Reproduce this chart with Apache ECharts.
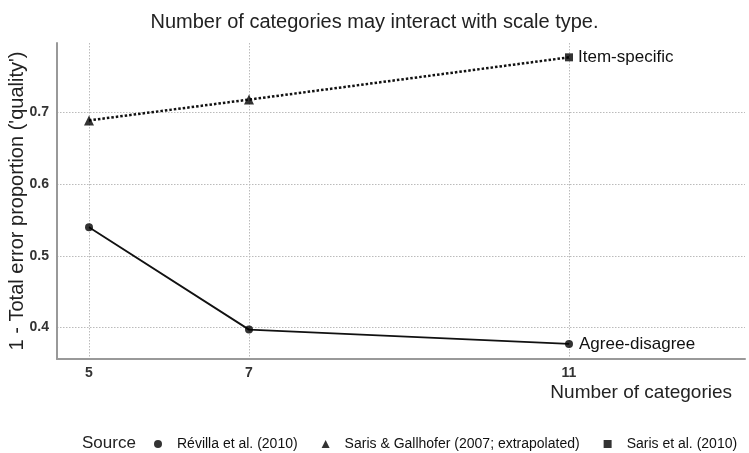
<!DOCTYPE html>
<html>
<head>
<meta charset="utf-8">
<script src="https://cdn.jsdelivr.net/npm/echarts@6/dist/echarts.min.js"></script>
<style>html,body{margin:0;padding:0;background:#fff}#c{width:749px;height:453px}</style>
</head>
<body>
<div id="c"></div>
<script>
// Data
const categories = [5, 7, 11];
const agreeDisagree = [0.540, 0.397, 0.377];
const itemSpecific = [0.689, 0.718, 0.777];
const revillaX = [5, 7, 11];
const revillaY = [0.540, 0.397, 0.377];
const sarisGallhoferX = [5, 7];
const sarisGallhoferY = [0.689, 0.718];
const sarisX = [11];
const sarisY = [0.777];
const yTicks = [0.4, 0.5, 0.6, 0.7];
const xTicks = [5, 7, 11];
const sourceNames = ['Révilla et al. (2010)', 'Saris & Gallhofer (2007; extrapolated)', 'Saris et al. (2010)'];
const lineNames = ['Agree-disagree', 'Item-specific'];

const pair = (xs, ys) => xs.map((x, i) => [x, ys[i]]);
const FONT = 'Liberation Sans, Arial, Helvetica, sans-serif';
const chart = echarts.init(document.getElementById('c'));
chart.setOption({
  animation: false,
  textStyle: { fontFamily: FONT },
  title: [
    { text: 'Number of categories may interact with scale type.', left: 'center', top: 7,
      textStyle: { fontSize: 20, fontWeight: 'normal', color: '#222', fontFamily: FONT } },
    { text: 'Source', left: 77, top: 430,
      textStyle: { fontSize: 17, fontWeight: 'normal', color: '#222', fontFamily: FONT } }
  ],
  legend: {
    left: 149, top: 432, itemWidth: 8, itemHeight: 8, itemGap: 24,
    data: [
      { name: sourceNames[0], icon: 'circle' },
      { name: sourceNames[1], icon: 'triangle' },
      { name: sourceNames[2], icon: 'rect' }
    ],
    textStyle: { fontSize: 14, color: '#111', padding: [0, 0, 0, 10], fontFamily: FONT }
  },
  grid: { left: 57, right: 4, top: 43, bottom: 94, containLabel: false, outerBoundsMode: 'none' },
  xAxis: {
    type: 'value', min: 4.6, max: 13.2,
    name: 'Number of categories', nameLocation: 'end', nameGap: -13, nameMoveOverlap: false,
    nameTextStyle: { fontSize: 19, color: '#222', align: 'right', verticalAlign: 'top', padding: [24, 0, 0, 0], fontFamily: FONT },
    axisLine: { show: true, lineStyle: { color: '#999', width: 2 } },
    axisTick: { show: false, customValues: xTicks },
    axisLabel: { customValues: xTicks, fontSize: 14, fontWeight: 'bold', color: '#333', margin: 7, fontFamily: FONT },
    splitLine: { show: true, lineStyle: { color: '#bbb', type: [1.5, 1.5], width: 1 } }
  },
  yAxis: {
    type: 'value', min: 0.356, max: 0.797,
    name: "1 - Total error proportion ('quality')", nameLocation: 'middle', nameGap: 30, nameMoveOverlap: false,
    nameTextStyle: { fontSize: 20, color: '#222', fontFamily: FONT },
    axisLine: { show: true, lineStyle: { color: '#999', width: 2 } },
    axisTick: { show: false, customValues: yTicks },
    axisLabel: { customValues: yTicks, formatter: v => v.toFixed(1), fontSize: 14, fontWeight: 'bold', color: '#333', margin: 8, fontFamily: FONT },
    splitLine: { show: true, lineStyle: { color: '#bbb', type: [1.5, 1.5], width: 1 } }
  },
  series: [
    { name: lineNames[0], type: 'line', data: pair(categories, agreeDisagree), symbol: 'none',
      lineStyle: { color: '#111', width: 1.8 },
      endLabel: { show: true, formatter: lineNames[0], fontSize: 17, color: '#111', distance: 10, fontFamily: FONT } },
    { name: lineNames[1], type: 'line', data: pair(categories, itemSpecific), symbol: 'none',
      lineStyle: { color: '#111', width: 2.5, type: [2.5, 2] },
      endLabel: { show: true, formatter: lineNames[1], fontSize: 17, color: '#111', distance: 9, fontFamily: FONT } },
    { name: sourceNames[0], type: 'scatter', symbol: 'circle', symbolSize: 8, itemStyle: { color: '#000' },
      data: pair(revillaX, revillaY), z: 5 },
    { name: sourceNames[1], type: 'scatter', symbol: 'triangle', symbolSize: 10, itemStyle: { color: '#000' },
      data: pair(sarisGallhoferX, sarisGallhoferY), z: 5 },
    { name: sourceNames[2], type: 'scatter', symbol: 'rect', symbolSize: 8, itemStyle: { color: '#000' },
      data: pair(sarisX, sarisY), z: 5 }
  ]
});
</script>
</body>
</html>
